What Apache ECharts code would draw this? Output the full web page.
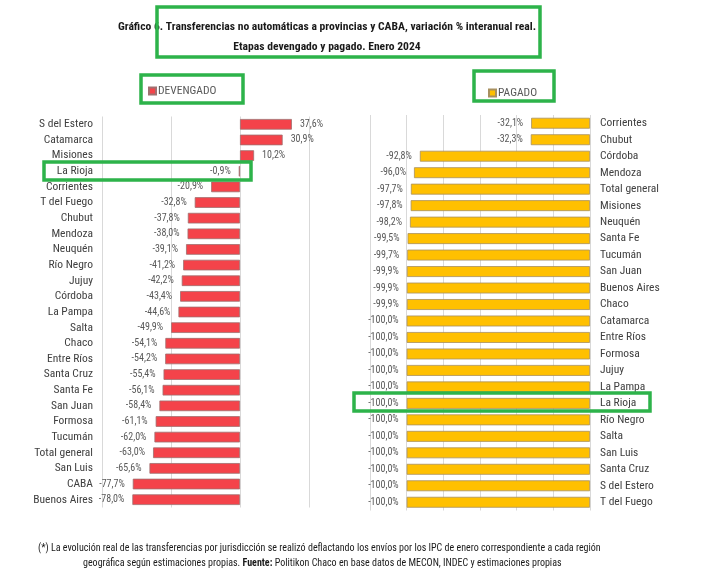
<!DOCTYPE html>
<html>
<head>
<meta charset="utf-8">
<script src="https://cdn.jsdelivr.net/npm/echarts@6/dist/echarts.min.js"></script>
<style>
  html, body { margin: 0; padding: 0; background: #fff; }
  #chart { width: 709px; height: 587px; }
</style>
</head>
<body>
<div id="chart"></div>
<script>
var FONT = '"Liberation Sans Narrow", "Roboto Condensed", "Liberation Sans", sans-serif';

// Devengado (left panel)
var devCategories = ['S del Estero', 'Catamarca', 'Misiones', 'La Rioja', 'Corrientes', 'T del Fuego',
  'Chubut', 'Mendoza', 'Neuquén', 'Río Negro', 'Jujuy', 'Córdoba', 'La Pampa', 'Salta', 'Chaco',
  'Entre Ríos', 'Santa Cruz', 'Santa Fe', 'San Juan', 'Formosa', 'Tucumán', 'Total general',
  'San Luis', 'CABA', 'Buenos Aires'];
var devValues = [37.6, 30.9, 10.2, -0.9, -20.9, -32.8, -37.8, -38.0, -39.1, -41.2, -42.2, -43.4,
  -44.6, -49.9, -54.1, -54.2, -55.4, -56.1, -58.4, -61.1, -62.0, -63.0, -65.6, -77.7, -78.0];

// Pagado (right panel)
var pagCategories = ['Corrientes', 'Chubut', 'Córdoba', 'Mendoza', 'Total general', 'Misiones',
  'Neuquén', 'Santa Fe', 'Tucumán', 'San Juan', 'Buenos Aires', 'Chaco', 'Catamarca', 'Entre Ríos',
  'Formosa', 'Jujuy', 'La Pampa', 'La Rioja', 'Río Negro', 'Salta', 'San Luis', 'Santa Cruz',
  'S del Estero', 'T del Fuego'];
var pagValues = [-32.1, -32.3, -92.8, -96.0, -97.7, -97.8, -98.2, -99.5, -99.7, -99.9, -99.9, -99.9,
  -100.0, -100.0, -100.0, -100.0, -100.0, -100.0, -100.0, -100.0, -100.0, -100.0, -100.0, -100.0];

var titleLines = ['Gráfico 6. Transferencias no automáticas a provincias y CABA, variación % interanual real.',
  'Etapas devengado y pagado. Enero 2024'];

var fmt = function (v) {
  return v.toFixed(1).replace('.', ',') + '%';
};

var withLabels = function (values) {
  return values.map(function (v) {
    return { value: v, label: { position: v < 0 ? 'left' : 'right' } };
  });
};

var chartDom = document.getElementById('chart');
var myChart = echarts.init(chartDom);
var green = '#2db34a';

var option = {
  animation: false,
  textStyle: { fontFamily: FONT },
  title: [{
    text: titleLines[0] + '\n' + titleLines[1],
    left: 322,
    top: 12,
    textAlign: 'center',
    textStyle: { fontSize: 11.6, fontWeight: 'bold', color: '#1a1a1a', fontFamily: FONT, lineHeight: 20, align: 'center' }
  }],
  legend: [{
    data: ['DEVENGADO'],
    left: 143,
    top: 80,
    icon: 'rect',
    itemWidth: 7,
    itemHeight: 7,
    textStyle: { fontSize: 11.5, color: '#595959', fontFamily: FONT, padding: [0, 0, 0, -3] }
  }, {
    data: ['PAGADO'],
    left: 483,
    top: 82,
    icon: 'rect',
    itemWidth: 7,
    itemHeight: 7,
    textStyle: { fontSize: 11.5, color: '#595959', fontFamily: FONT, padding: [0, 0, 0, -3] }
  }],
  grid: [{
    left: 102, right: 400, top: 116.5, bottom: 79.5
  }, {
    left: 370, right: 119, top: 115, bottom: 76.5
  }],
  xAxis: [{
    gridIndex: 0,
    type: 'value',
    min: -100,
    max: 50,
    interval: 50,
    axisLabel: { show: false },
    axisLine: { show: false },
    axisTick: { show: false },
    splitLine: { lineStyle: { color: '#d9d9d9', width: 1 } }
  }, {
    gridIndex: 1,
    type: 'value',
    min: -120,
    max: 0,
    interval: 20,
    axisLabel: { show: false },
    axisLine: { show: false },
    axisTick: { show: false },
    splitLine: { lineStyle: { color: '#d9d9d9', width: 1 } }
  }],
  yAxis: [{
    gridIndex: 0,
    type: 'category',
    inverse: true,
    data: devCategories,
    axisLine: { show: false, onZero: false },
    axisTick: { show: false },
    axisLabel: { fontSize: 11.5, color: '#404040', margin: 9, fontFamily: FONT }
  }, {
    gridIndex: 1,
    type: 'category',
    position: 'right',
    inverse: true,
    data: pagCategories,
    axisLine: { show: false, onZero: false },
    axisTick: { show: false },
    axisLabel: { fontSize: 11.5, color: '#404040', margin: 10, fontFamily: FONT }
  }],
  series: [{
    name: 'DEVENGADO',
    type: 'bar',
    xAxisIndex: 0,
    yAxisIndex: 0,
    barCategoryGap: '32%',
    data: withLabels(devValues),
    itemStyle: { color: '#f4434a', borderColor: '#a07070', borderWidth: 0.8 },
    label: {
      show: true,
      fontSize: 10,
      color: '#595959',
      distance: 8,
      fontFamily: FONT,
      formatter: function (p) { return fmt(p.value); }
    }
  }, {
    name: 'PAGADO',
    type: 'bar',
    xAxisIndex: 1,
    yAxisIndex: 1,
    barCategoryGap: '34%',
    data: withLabels(pagValues),
    itemStyle: { color: '#ffc000', borderColor: '#a89060', borderWidth: 0.8 },
    label: {
      show: true,
      fontSize: 10,
      color: '#595959',
      distance: 8,
      fontFamily: FONT,
      formatter: function (p) { return fmt(p.value); }
    }
  }],
  graphic: [{
    type: 'text',
    left: 38,
    top: 543,
    style: {
      text: '(*) La evolución real de las transferencias por jurisdicción se realizó deflactando los envíos por los IPC de enero correspondiente a cada región',
      fontSize: 10,
      fill: '#1a1a1a',
      fontFamily: FONT
    }
  }, {
    type: 'text',
    left: 83,
    top: 558,
    style: {
      text: '{n|geográfica según estimaciones propias. }{b|Fuente:}{n| Politikon Chaco en base datos de MECON, INDEC y estimaciones propias}',
      fontFamily: FONT,
      rich: {
        n: { fontSize: 10, fill: '#1a1a1a', fontFamily: FONT },
        b: { fontSize: 10, fill: '#1a1a1a', fontWeight: 'bold', fontFamily: FONT }
      }
    }
  },
  // green highlight frames as in the reference
  { type: 'rect', shape: { x: 157, y: 7, width: 383, height: 50 }, style: { fill: 'none', stroke: green, lineWidth: 3.5 }, z: 100 },
  { type: 'rect', shape: { x: 141, y: 75, width: 102, height: 28 }, style: { fill: 'none', stroke: green, lineWidth: 3.5 }, z: 100 },
  { type: 'rect', shape: { x: 474, y: 71, width: 80, height: 30 }, style: { fill: 'none', stroke: green, lineWidth: 3.5 }, z: 100 },
  { type: 'rect', shape: { x: 44, y: 162, width: 207, height: 18 }, style: { fill: 'none', stroke: green, lineWidth: 3.5 }, z: 100 },
  { type: 'rect', shape: { x: 354, y: 393, width: 296, height: 18 }, style: { fill: 'none', stroke: green, lineWidth: 3.5 }, z: 100 }
  ]
};

option && myChart.setOption(option);
</script>
</body>
</html>
